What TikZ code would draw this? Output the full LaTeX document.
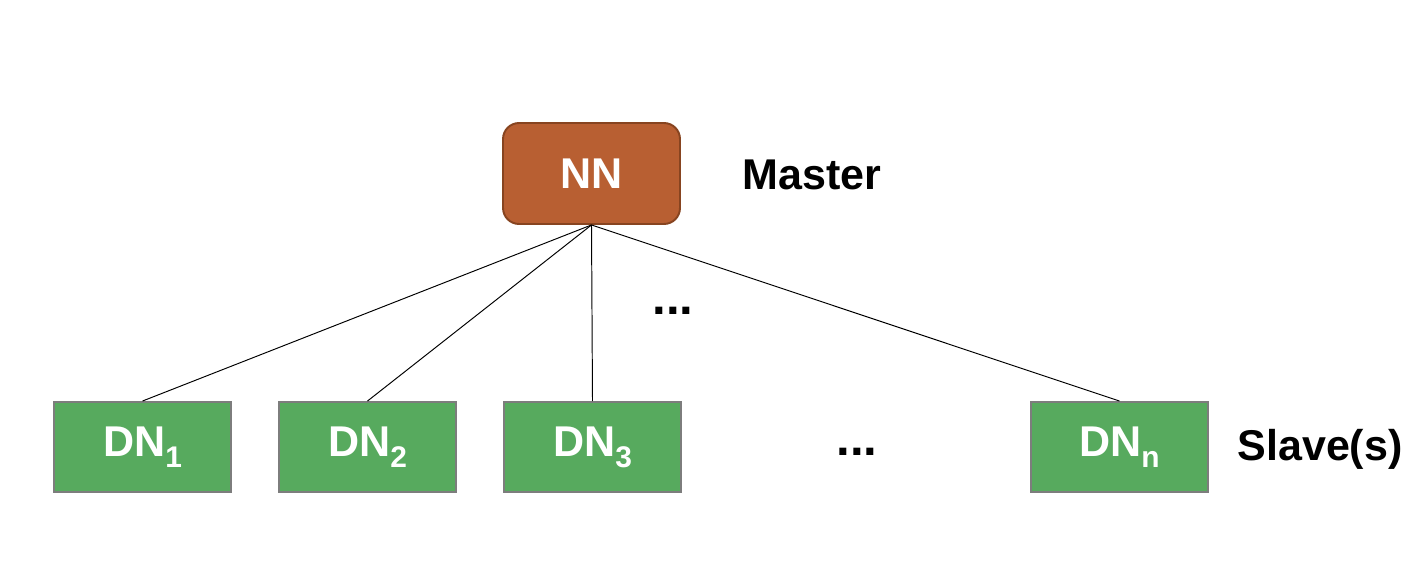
\documentclass[tikz,border=0pt]{standalone}
\usepackage{fontspec}
\setmainfont{Liberation Sans}
\definecolor{nnfill}{RGB}{184,95,50}
\definecolor{nnline}{RGB}{135,68,32}
\definecolor{dnfill}{RGB}{87,170,94}
\definecolor{dnline}{RGB}{125,125,125}
\newcommand{\sub}[1]{\raisebox{-0.22cm}{\fontsize{17}{17}\selectfont #1}}

\begin{document}
\begin{tikzpicture}[x=0.02cm,y=-0.02cm,
  master/.style={minimum width=3.54cm,minimum height=2.02cm,draw=nnline,line width=1.1pt,fill=nnfill,rounded corners=0.32cm,text=white,font=\fontsize{24.5}{29}\selectfont\bfseries},
  slave/.style={minimum width=3.54cm,minimum height=1.8cm,draw=dnline,line width=1.1pt,fill=dnfill,text=white,font=\fontsize{24.5}{29}\selectfont\bfseries},
  label/.style={font=\fontsize{24.5}{29}\selectfont\bfseries},
  dots/.style={font=\fontsize{28}{30}\selectfont\bfseries},
  link/.style={line width=0.55pt}]
\useasboundingbox (0,0) rectangle (1421,577);

\node[master] (nn) at (591.5,173.5) {NN};
\node[label] (master) at (812,175) {Master};

\node[slave] (dn1) at (142.5,447) {DN\sub{1}};
\node[slave] (dn2) at (367.5,447) {DN\sub{2}};
\node[slave] (dn3) at (592.5,447) {DN\sub{3}};
\node[slave] (dnn) at (1119.5,447) {DN\sub{n}};
\node[label] (slaves) at (1320,449) {Slave(s)};

\node[dots] (dotsup) at (673,311) {...};
\node[dots] (dotslow) at (857,452) {...};

\draw[link] (nn.south) -- (dn1.north);
\draw[link] (nn.south) -- (dn2.north);
\draw[link] (nn.south) -- (dn3.north);
\draw[link] (nn.south) -- (dnn.north);
\end{tikzpicture}
\end{document}
